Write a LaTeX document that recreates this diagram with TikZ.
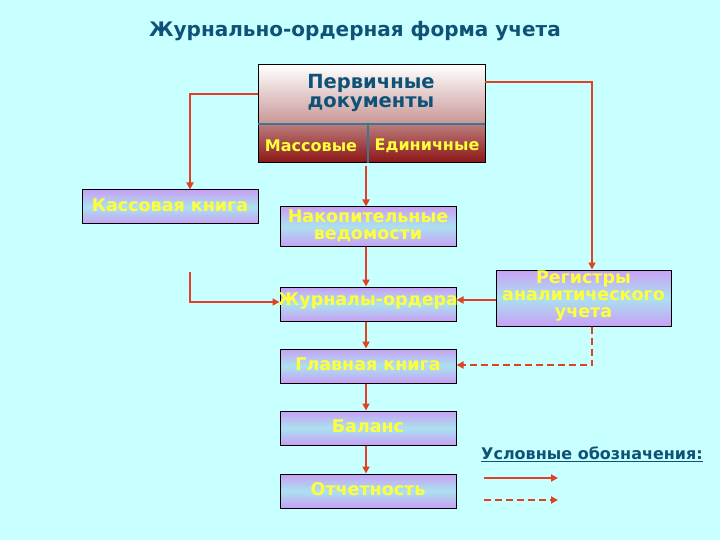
\documentclass[tikz,border=0pt]{standalone}
\usepackage{fontspec}
\setmainfont{DejaVu Sans}
\usetikzlibrary{arrows.meta}
\definecolor{bg}{RGB}{200,255,255}
\definecolor{titleblue}{RGB}{14,82,120}
\definecolor{arr}{RGB}{225,65,35}
\definecolor{lav}{RGB}{200,160,245}
\definecolor{lblue}{RGB}{170,225,240}
\definecolor{txty}{RGB}{255,255,60}
\definecolor{darkred}{RGB}{140,20,20}
\definecolor{rose}{RGB}{200,150,150}
\begin{document}
\begin{tikzpicture}[x=1pt,y=-1pt,
  box/.style={draw=black,line width=1pt,top color=lav,bottom color=lav,middle color=lblue,inner sep=0pt},
  btxt/.style={text=txty,font=\fontsize{17.5}{17}\selectfont\bfseries,align=center,inner sep=0pt},
  flow/.style={draw=arr,line width=2.5pt,-{Triangle[length=7pt,width=7pt]}},
  dflow/.style={flow,dash pattern=on 7pt off 4pt}]
\fill[bg] (0,0) rectangle (720,540);
\useasboundingbox (0,0) rectangle (720,540);
\node[text=titleblue,font=\fontsize{20}{22}\selectfont\bfseries] (title) at (355,31) {Журнально-ордерная форма учета};
% primary docs
\shade[top color=white,bottom color=rose] (258,65) rectangle (485,124);
\shade[top color=rose!80!darkred,bottom color=darkred] (258,124) rectangle (485,163);
\draw[line width=1pt] (258,65) rectangle (485,163);
\draw[titleblue!80,line width=1.5pt] (258,124) -- (485,124);
\draw[titleblue!80,line width=1.5pt] (368,124) -- (368,163);
\node[inner sep=0pt,minimum width=227pt,minimum height=59pt] (prim) at (371.5,94.5) {};
\node[text=titleblue,font=\fontsize{19.5}{19.5}\selectfont\bfseries,align=center] (primt) at (371,93) {Первичные\\документы};
\node[text=txty,font=\fontsize{16}{16}\selectfont\bfseries,inner sep=0pt,minimum width=110pt,minimum height=39pt] (mass) at (311,146) {Массовые};
\node[text=txty,font=\fontsize{16}{16}\selectfont\bfseries,inner sep=0pt,minimum width=117pt,minimum height=39pt] (edin) at (427,146) {Единичные};
% boxes
\node[box,minimum width=176pt,minimum height=34pt] (kass) at (170,207) {};
\node[btxt] at (170,205) {Кассовая книга};
\node[box,minimum width=176pt,minimum height=39pt] (nak) at (368,226.5) {};
\node[btxt] at (368,225.5) {Накопительные\\ведомости};
\node[box,minimum width=176pt,minimum height=34pt] (jur) at (368,304) {};
\node[btxt] at (368,301) {Журналы-ордера};
\node[box,minimum width=175pt,minimum height=56pt] (reg) at (583.5,298) {};
\node[btxt] at (583.5,296) {Регистры\\аналитического\\учета};
\node[box,minimum width=176pt,minimum height=34pt] (glav) at (368,366) {};
\node[btxt] at (368,364) {Главная книга};
\node[box,minimum width=176pt,minimum height=34pt] (bal) at (368,428) {};
\node[btxt] at (368,426) {Баланс};
\node[box,minimum width=176pt,minimum height=34pt] (otch) at (368,491) {};
\node[btxt] at (368,489) {Отчетность};
% connectors
\draw[flow] (258,94) -- (190,94) -- (kass.north -| 190,0);
\draw[flow] (485,82) -- (592,82) -- (reg.north -| 592,0);
\draw[flow] (mass.south -| 366,0) -- (nak.north -| 366,0);
\draw[flow] (nak.south -| 366,0) -- (jur.north -| 366,0);
\coordinate (kstart) at (190,272);
\draw[flow] (kstart) -- (190,302) -- (jur.west |- 0,302);
\draw[flow] (reg.west |- 0,300) -- (jur.east |- 0,300);
\draw[flow] (jur.south -| 366,0) -- (glav.north -| 366,0);
\draw[dflow] (reg.south -| 592,0) -- (592,365) -- (glav.east |- 0,365);
\draw[flow] (glav.south -| 366,0) -- (bal.north -| 366,0);
\draw[flow] (bal.south -| 366,0) -- (otch.north -| 366,0);
% legend
\node[text=titleblue,font=\fontsize{16}{17}\selectfont\bfseries,anchor=west,inner sep=0pt] (leg) at (481,454) {\underline{Условные обозначения:}};
\coordinate (l1a) at (484,478); \coordinate (l1b) at (558,478);
\coordinate (l2a) at (484,500); \coordinate (l2b) at (558,500);
\draw[flow] (l1a) -- (l1b);
\draw[dflow] (l2a) -- (l2b);
\end{tikzpicture}
\end{document}
